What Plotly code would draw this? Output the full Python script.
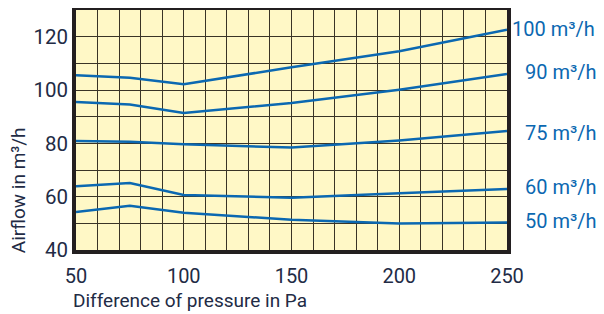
import plotly.graph_objects as go

pressure = [50, 75, 100, 150, 200, 250]
series_names = ["100 m³/h", "90 m³/h", "75 m³/h", "60 m³/h", "50 m³/h"]
flow_100 = [105.5, 104.6, 102.2, 108.5, 114.5, 122.6]
flow_90 = [95.5, 94.6, 91.4, 95.1, 100.1, 106.0]
flow_75 = [80.9, 80.6, 79.7, 78.4, 81.1, 84.6]
flow_60 = [63.9, 65.1, 60.6, 59.6, 61.3, 62.9]
flow_50 = [54.2, 56.6, 54.0, 51.3, 49.9, 50.3]
label_y = [122.7, 106.6, 83.8, 63.5, 50.8]

x_tick_vals = list(range(50, 251, 10))
x_tick_text = [str(v) if v % 50 == 0 else "" for v in x_tick_vals]
y_tick_vals = list(range(40, 131, 10))
y_tick_text = [str(v) if v % 20 == 0 and v <= 120 else "" for v in y_tick_vals]

blue = "#0b68b1"
navy = "#222b45"
FONT = "Roboto"

fig = go.Figure()
for name, ys in zip(series_names, [flow_100, flow_90, flow_75, flow_60, flow_50]):
    fig.add_trace(go.Scatter(x=pressure, y=ys, mode="lines", name=name,
                             line=dict(color=blue, width=2.5), showlegend=False))

for i, (name, ly) in enumerate(zip(series_names, label_y)):
    fig.add_annotation(x=1, xref="paper", y=ly, yref="y", text=name,
                       showarrow=False, xanchor="left", yanchor="middle",
                       xshift=3 if i == 0 else 16,
                       font=dict(color=blue, size=20, family=FONT))

fig.add_annotation(x=-0.0093, xref="paper", y=-0.21, yref="paper",
                   text="Difference of pressure in Pa", showarrow=False,
                   xanchor="left", yanchor="middle", borderpad=0,
                   font=dict(color=navy, size=19, family=FONT))
fig.add_annotation(x=-0.134, xref="paper", y=0.25, yref="paper",
                   text="Airflow in m³/h", showarrow=False, textangle=-90,
                   xanchor="center", yanchor="middle",
                   font=dict(color=navy, size=19, family=FONT))

fig.update_layout(
    width=596, height=306,
    margin=dict(l=68, r=97, t=2, b=64),
    paper_bgcolor="white",
    plot_bgcolor="#fff8c6",
    font=dict(family=FONT, color=navy, size=20),
    xaxis=dict(range=[50, 250], tickvals=x_tick_vals, ticktext=x_tick_text,
               showgrid=True, gridcolor="#3a3426", gridwidth=1.3,
               showline=True, mirror=True, linecolor="#231f20", linewidth=3.5,
               zeroline=False, ticks="", ticklen=0, automargin=False,
               ticklabelstandoff=5, tickfont=dict(size=20)),
    yaxis=dict(range=[40, 130], tickvals=y_tick_vals, ticktext=y_tick_text,
               showgrid=True, gridcolor="#3a3426", gridwidth=1.3,
               showline=True, mirror=True, linecolor="#231f20", linewidth=3.5,
               zeroline=False, ticks="", ticklen=0, automargin=False,
               tickfont=dict(size=20.5)),
)

fig.write_html("out.html")
